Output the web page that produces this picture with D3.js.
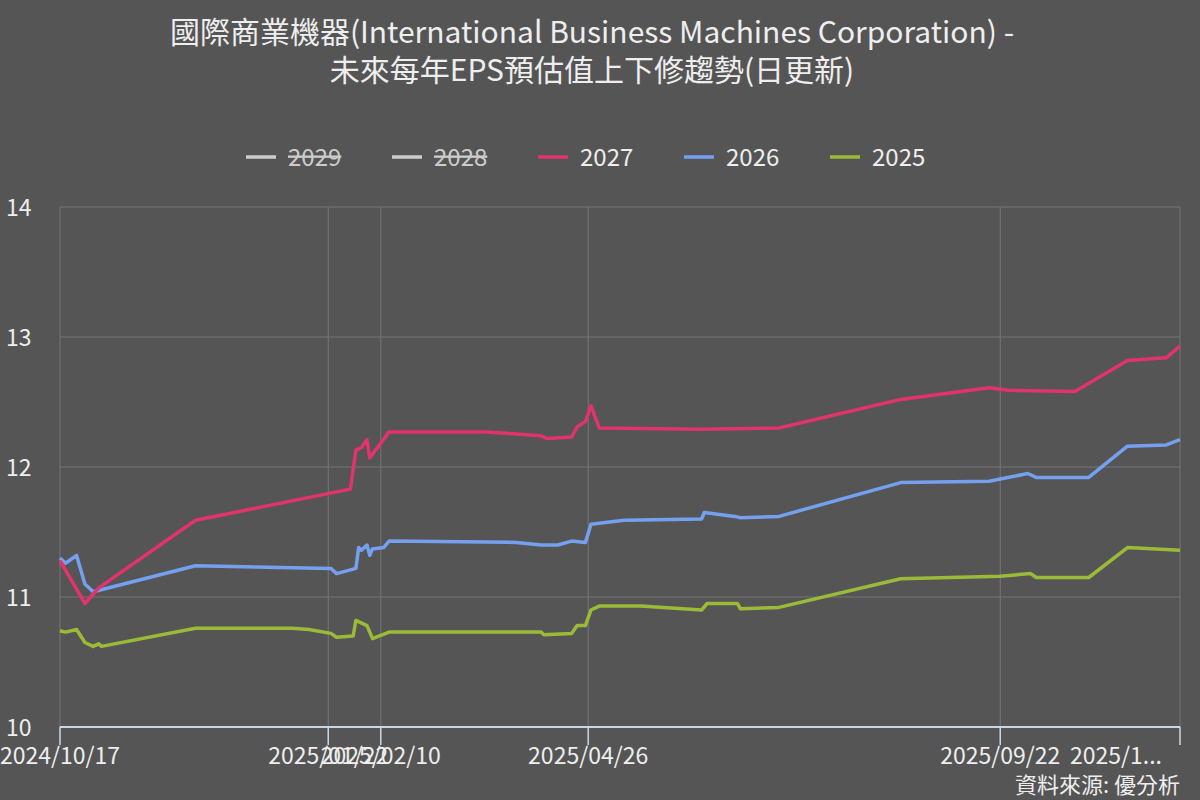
<!DOCTYPE html>
<html><head><meta charset="utf-8">
<script src="https://cdn.jsdelivr.net/npm/d3@7"></script>
<style>
body{margin:0;background:#555555;}
svg{display:block;font-family:"Noto Sans CJK TC","Noto Sans",sans-serif;}
</style></head>
<body><svg id="chart" width="1200" height="800"></svg>
<script>
var redDates = ["2024-10-17","2024-10-26","2024-10-31","2024-12-05","2025-01-30","2025-02-01","2025-02-03","2025-02-05","2025-02-06","2025-02-13","2025-03-20","2025-04-09","2025-04-11","2025-04-20","2025-04-22","2025-04-25","2025-04-27","2025-04-30","2025-06-06","2025-07-04","2025-08-17","2025-09-18","2025-09-25","2025-10-19","2025-11-07","2025-11-21","2025-11-26"];
var redVals = [11.28,10.95,11.07,11.59,11.83,12.13,12.15,12.21,12.07,12.27,12.27,12.24,12.22,12.23,12.31,12.35,12.47,12.30,12.29,12.30,12.52,12.61,12.59,12.58,12.82,12.84,12.93];

var blueDates = ["2024-10-17","2024-10-19","2024-10-23","2024-10-26","2024-10-29","2024-12-05","2025-01-23","2025-01-25","2025-02-01","2025-02-02","2025-02-03","2025-02-05","2025-02-06","2025-02-07","2025-02-11","2025-02-13","2025-03-31","2025-04-09","2025-04-15","2025-04-20","2025-04-25","2025-04-27","2025-05-09","2025-06-06","2025-06-07","2025-06-18","2025-06-20","2025-07-04","2025-08-17","2025-09-18","2025-10-02","2025-10-05","2025-10-24","2025-11-07","2025-11-21","2025-11-26"];
var blueVals = [11.30,11.26,11.32,11.10,11.04,11.24,11.22,11.18,11.22,11.38,11.36,11.40,11.32,11.37,11.38,11.43,11.42,11.40,11.40,11.43,11.42,11.56,11.59,11.60,11.65,11.62,11.61,11.62,11.88,11.89,11.95,11.92,11.92,12.16,12.17,12.21];

var greenDates = ["2024-10-17","2024-10-19","2024-10-23","2024-10-26","2024-10-29","2024-10-31","2024-11-01","2024-12-05","2025-01-09","2025-01-15","2025-01-23","2025-01-25","2025-01-31","2025-02-01","2025-02-05","2025-02-07","2025-02-13","2025-04-09","2025-04-10","2025-04-20","2025-04-22","2025-04-25","2025-04-27","2025-04-30","2025-05-15","2025-06-06","2025-06-08","2025-06-19","2025-06-20","2025-07-04","2025-08-17","2025-09-22","2025-10-03","2025-10-05","2025-10-24","2025-11-07","2025-11-26"];
var greenVals = [10.74,10.73,10.75,10.65,10.62,10.64,10.62,10.76,10.76,10.75,10.72,10.69,10.70,10.82,10.78,10.68,10.73,10.73,10.71,10.72,10.78,10.78,10.90,10.93,10.93,10.90,10.95,10.95,10.91,10.92,11.14,11.16,11.18,11.15,11.15,11.38,11.36];

var tickDates = ["2024-10-17","2025-01-22","2025-02-10","2025-04-26","2025-09-22","2025-11-26"];
var tickLabels = ["2024/10/17","2025/01/22","2025/02/10","2025/04/26","2025/09/22","2025/1..."];
var yTicks = [10,11,12,13,14];
var legendNames = ["2029","2028","2027","2026","2025"];
var legendColors = ["#cccccc","#cccccc","#e2336b","#75a0f0","#9bbb38"];
var legendHidden = [true,true,false,false,false];

var parse = d3.timeParse("%Y-%m-%d");
var svg = d3.select("#chart");
var x = d3.scaleTime().domain([parse("2024-10-17"), parse("2025-11-26")]).range([60,1180]);
var y = d3.scaleLinear().domain([10,14]).range([727,207]);

svg.append("text").attr("x",592).attr("y",43).attr("text-anchor","middle")
  .attr("fill","#eeeeee").attr("font-size",30).text("國際商業機器(International Business Machines Corporation) -");
svg.append("text").attr("x",592).attr("y",81).attr("text-anchor","middle")
  .attr("fill","#eeeeee").attr("font-size",30).text("未來每年EPS預估值上下修趨勢(日更新)");

// grid
svg.selectAll(".hg").data(yTicks).enter().append("line")
  .attr("x1",60).attr("x2",1180).attr("y1",d=>y(d)).attr("y2",d=>y(d))
  .attr("stroke","#777777").attr("stroke-width",1);
svg.selectAll(".vg").data(tickDates).enter().append("line")
  .attr("x1",d=>x(parse(d))).attr("x2",d=>x(parse(d))).attr("y1",207).attr("y2",727)
  .attr("stroke","#777777").attr("stroke-width",1);
svg.selectAll(".yl").data(yTicks).enter().append("text")
  .attr("x",6).attr("y",d=>y(d)+9).attr("fill","#eeeeee").attr("font-size",23).text(d=>d);

// x axis
svg.append("line").attr("x1",60).attr("x2",1180).attr("y1",727).attr("y2",727)
  .attr("stroke","#ccd6eb").attr("stroke-width",2);
svg.selectAll(".xt").data(tickDates).enter().append("line")
  .attr("x1",d=>x(parse(d))).attr("x2",d=>x(parse(d))).attr("y1",727).attr("y2",745)
  .attr("stroke","#ccd6eb").attr("stroke-width",1.5);
svg.selectAll(".xl").data(tickDates).enter().append("text")
  .attr("x",(d,i)=>i==tickDates.length-1 ? x(parse(d))-18 : x(parse(d)))
  .attr("y",764).attr("text-anchor",(d,i)=>i==tickDates.length-1?"end":"middle")
  .attr("fill","#eeeeee").attr("font-size",23).text((d,i)=>tickLabels[i]);

var line = d3.line().x(d=>x(parse(d[0]))).y(d=>y(d[1]));
[[greenDates,greenVals,legendColors[4]],[blueDates,blueVals,legendColors[3]],[redDates,redVals,legendColors[2]]].forEach(function(s){
  svg.append("path").datum(d3.zip(s[0],s[1])).attr("d",line)
    .attr("fill","none").attr("stroke",s[2]).attr("stroke-width",3.5).attr("stroke-linejoin","round");
});

// legend
var lg = svg.selectAll(".lg").data(legendNames).enter().append("g")
  .attr("transform",(d,i)=>"translate("+(246+i*146)+",157)");
lg.append("line").attr("x1",0).attr("x2",30).attr("stroke",(d,i)=>legendColors[i]).attr("stroke-width",3.5);
lg.append("text").attr("x",42).attr("y",9).attr("font-size",24)
  .attr("fill",(d,i)=>legendHidden[i]?"#cccccc":"#eeeeee")
  .attr("text-decoration",(d,i)=>legendHidden[i]?"line-through":null).text(d=>d);

svg.append("text").attr("x",1180).attr("y",793).attr("text-anchor","end")
  .attr("fill","#eeeeee").attr("font-size",22).text("資料來源: 優分析");
</script></body></html>
